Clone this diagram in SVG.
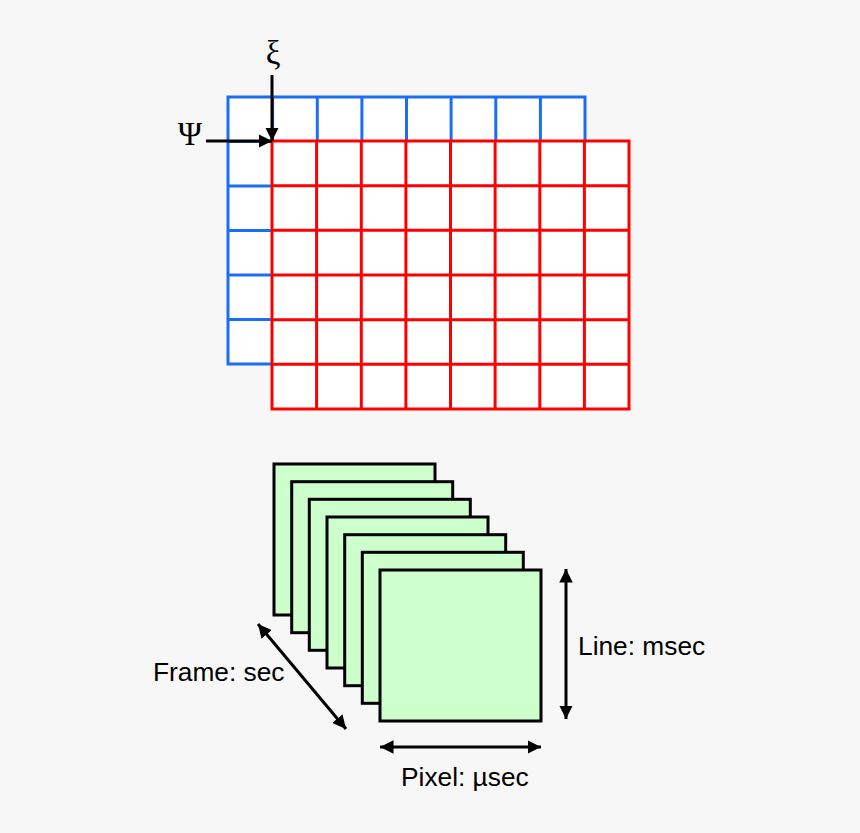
<svg xmlns="http://www.w3.org/2000/svg" width="860" height="833" viewBox="0 0 860 833">
<defs>
<marker id="ah" viewBox="0 0 10 10" refX="10" refY="5" markerWidth="4.5" markerHeight="4.5" orient="auto-start-reverse" markerUnits="strokeWidth">
<path d="M0,0 L10,5 L0,10 z" fill="#000"/>
</marker>
<marker id="ah2" viewBox="0 0 10 10" refX="10" refY="5" markerWidth="4.5" markerHeight="4.5" orient="auto-start-reverse" markerUnits="strokeWidth">
<path d="M0,0 L10,5 L0,10 z" fill="#000"/>
</marker>
</defs>
<style>
.blue{fill:none;stroke:#1a6ef5;stroke-width:3}
.red{fill:none;stroke:#ff0000;stroke-width:3}
.frame{fill:#ccffcc;stroke:#000;stroke-width:3}
.arr{stroke:#000;stroke-width:3;fill:none}
.lbl{font-family:"Liberation Sans",Arial,sans-serif;font-size:26.3px;fill:#000}
.greek{font-family:"Liberation Serif","Times New Roman",serif;font-size:33px;fill:#000}
</style>
<rect width="860" height="833" fill="#f7f7f7"/>
<g id="blue-grid">
<rect x="228" y="97" width="357" height="267" fill="#fff" stroke="none"/>
<path class="blue" d="M228,97 H585 V364 H228 Z M272.6,97 V364 M317.3,97 V364 M361.9,97 V364 M406.5,97 V364 M451.1,97 V364 M495.8,97 V364 M540.4,97 V364 M228,141.5 H585 M228,186 H585 M228,230.5 H585 M228,275 H585 M228,319.5 H585"/>
</g>
<g id="red-grid">
<rect x="272" y="141" width="357" height="268" fill="#fff" stroke="none"/>
<path class="red" d="M272,141 H629 V409 H272 Z M316.6,141 V409 M361.3,141 V409 M405.9,141 V409 M450.5,141 V409 M495.1,141 V409 M539.8,141 V409 M584.4,141 V409 M272,185.7 H629 M272,230.3 H629 M272,275 H629 M272,319.7 H629 M272,364.3 H629"/>
</g>
<g id="xi-label"><text class="greek" x="273" y="64" text-anchor="middle">ξ</text></g>
<g id="psi-label"><text class="greek" x="190" y="145" text-anchor="middle">Ψ</text></g>
<g id="frames">
<rect class="frame" x="274" y="464" width="161" height="151"/>
<rect class="frame" x="291.7" y="481.7" width="161" height="151"/>
<rect class="frame" x="309.3" y="499.3" width="161" height="151"/>
<rect class="frame" x="327" y="517" width="161" height="151"/>
<rect class="frame" x="344.7" y="534.7" width="161" height="151"/>
<rect class="frame" x="362.3" y="552.3" width="161" height="151"/>
<rect class="frame" x="380" y="570" width="161" height="151"/>
</g>
<g id="connectors">
<line class="arr" x1="272" y1="75" x2="272" y2="141" marker-end="url(#ah)"/>
<line class="arr" x1="206" y1="141" x2="272" y2="141" marker-end="url(#ah)"/>
<line class="arr" x1="258" y1="624" x2="346" y2="729" marker-start="url(#ah2)" marker-end="url(#ah2)"/>
<line class="arr" x1="566" y1="569" x2="566" y2="719" marker-start="url(#ah2)" marker-end="url(#ah2)"/>
<line class="arr" x1="380" y1="747" x2="541" y2="747" marker-start="url(#ah2)" marker-end="url(#ah2)"/>
</g>
<g id="labels">
<text class="lbl" x="578" y="655">Line: msec</text>
<text class="lbl" x="153" y="681">Frame: sec</text>
<text class="lbl" x="401" y="786">Pixel: µsec</text>
</g>
</svg>
